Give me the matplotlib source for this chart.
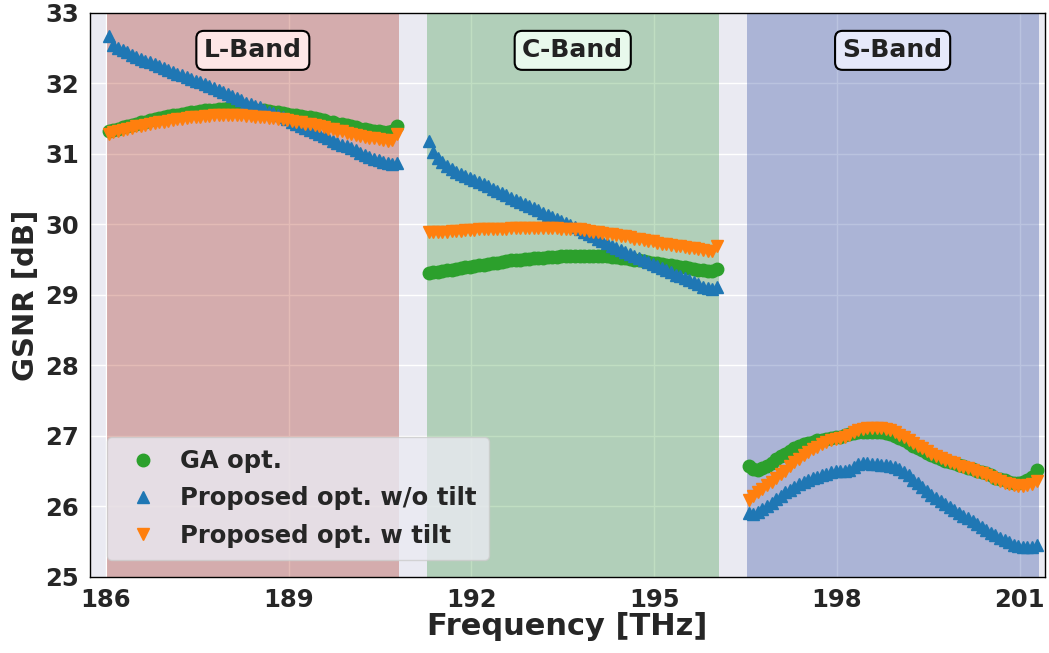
import matplotlib
matplotlib.use("Agg")
import matplotlib.pyplot as plt
import numpy as np
import seaborn as sns

# channel grid (THz)
band_names = ["L-Band", "C-Band", "S-Band"]
band_starts = [186.05, 191.30, 196.55]
ch_spacing = 0.075
n_ch = 64

# GSNR [dB] per band, GA optimisation
ga_L = [31.32, 31.34, 31.36, 31.38, 31.40, 31.41, 31.43, 31.45, 31.46, 31.48,
        31.49, 31.51, 31.52, 31.54, 31.55, 31.56, 31.57, 31.58, 31.59, 31.60,
        31.61, 31.62, 31.63, 31.63, 31.64, 31.64, 31.65, 31.65, 31.65, 31.65,
        31.64, 31.64, 31.63, 31.63, 31.62, 31.61, 31.60, 31.59, 31.58, 31.57,
        31.56, 31.55, 31.54, 31.53, 31.52, 31.51, 31.49, 31.48, 31.46, 31.45,
        31.43, 31.42, 31.41, 31.39, 31.38, 31.36, 31.35, 31.34, 31.33, 31.32,
        31.31, 31.31, 31.32, 31.40]
ga_C = [29.31, 29.32, 29.33, 29.34, 29.35, 29.36, 29.37, 29.38, 29.39, 29.40,
        29.41, 29.42, 29.43, 29.44, 29.45, 29.46, 29.47, 29.48, 29.49, 29.49,
        29.50, 29.51, 29.51, 29.52, 29.53, 29.53, 29.54, 29.54, 29.54, 29.55,
        29.55, 29.55, 29.56, 29.56, 29.56, 29.56, 29.56, 29.56, 29.55, 29.55,
        29.54, 29.54, 29.53, 29.52, 29.51, 29.50, 29.49, 29.48, 29.47, 29.46,
        29.45, 29.44, 29.43, 29.42, 29.41, 29.40, 29.39, 29.38, 29.37, 29.36,
        29.35, 29.34, 29.34, 29.37]
ga_S = [26.58, 26.53, 26.52, 26.54, 26.58, 26.62, 26.67, 26.71, 26.75, 26.79,
        26.83, 26.86, 26.88, 26.90, 26.92, 26.94, 26.95, 26.96, 26.97, 26.98,
        26.99, 27.01, 27.03, 27.04, 27.05, 27.05, 27.06, 27.06, 27.06, 27.05,
        27.04, 27.03, 27.00, 26.97, 26.94, 26.90, 26.86, 26.83, 26.80, 26.76,
        26.73, 26.70, 26.68, 26.65, 26.63, 26.61, 26.59, 26.57, 26.55, 26.53,
        26.51, 26.49, 26.47, 26.44, 26.41, 26.39, 26.37, 26.35, 26.34, 26.34,
        26.35, 26.38, 26.42, 26.52]

# proposed optimisation without tilt
notilt_L = [32.68, 32.55, 32.50, 32.47, 32.44, 32.41, 32.38, 32.35, 32.32, 32.30,
            32.27, 32.25, 32.22, 32.19, 32.17, 32.14, 32.12, 32.09, 32.07, 32.04,
            32.02, 31.99, 31.97, 31.94, 31.91, 31.88, 31.85, 31.82, 31.79, 31.76,
            31.73, 31.71, 31.68, 31.66, 31.63, 31.60, 31.58, 31.55, 31.52, 31.49,
            31.46, 31.43, 31.40, 31.37, 31.34, 31.31, 31.28, 31.25, 31.22, 31.19,
            31.16, 31.13, 31.11, 31.08, 31.05, 31.02, 30.99, 30.96, 30.93, 30.91,
            30.89, 30.87, 30.86, 30.87]
notilt_C = [31.19, 31.03, 30.95, 30.88, 30.83, 30.79, 30.75, 30.72, 30.69, 30.66,
            30.63, 30.60, 30.57, 30.54, 30.51, 30.48, 30.45, 30.42, 30.38, 30.35,
            30.32, 30.29, 30.26, 30.23, 30.20, 30.17, 30.14, 30.11, 30.08, 30.05,
            30.02, 29.99, 29.96, 29.93, 29.90, 29.86, 29.83, 29.80, 29.77, 29.74,
            29.70, 29.67, 29.64, 29.61, 29.58, 29.55, 29.52, 29.49, 29.47, 29.44,
            29.41, 29.38, 29.35, 29.32, 29.29, 29.27, 29.24, 29.21, 29.18, 29.15,
            29.12, 29.10, 29.09, 29.11]
notilt_S = [25.91, 25.90, 25.92, 25.96, 26.00, 26.05, 26.10, 26.15, 26.20, 26.24,
            26.28, 26.32, 26.35, 26.38, 26.40, 26.42, 26.44, 26.46, 26.49, 26.51,
            26.51, 26.50, 26.52, 26.56, 26.60, 26.61, 26.61, 26.60, 26.60, 26.59,
            26.59, 26.58, 26.56, 26.53, 26.49, 26.44, 26.38, 26.33, 26.27, 26.22,
            26.17, 26.12, 26.08, 26.03, 25.99, 25.95, 25.91, 25.87, 25.83, 25.79,
            25.75, 25.71, 25.67, 25.63, 25.59, 25.55, 25.52, 25.49, 25.46, 25.44,
            25.42, 25.42, 25.43, 25.45]

# proposed optimisation with tilt
tilt_L = [31.29, 31.31, 31.33, 31.34, 31.36, 31.37, 31.39, 31.40, 31.41, 31.43,
          31.44, 31.45, 31.46, 31.47, 31.48, 31.49, 31.50, 31.51, 31.52, 31.53,
          31.53, 31.54, 31.54, 31.55, 31.55, 31.55, 31.55, 31.55, 31.55, 31.55,
          31.54, 31.54, 31.53, 31.53, 31.52, 31.51, 31.51, 31.50, 31.49, 31.48,
          31.47, 31.46, 31.45, 31.43, 31.42, 31.41, 31.39, 31.38, 31.36, 31.35,
          31.33, 31.32, 31.30, 31.29, 31.27, 31.26, 31.24, 31.23, 31.22, 31.21,
          31.20, 31.19, 31.20, 31.28]
tilt_C = [29.89, 29.89, 29.90, 29.90, 29.90, 29.91, 29.91, 29.91, 29.92, 29.92,
          29.92, 29.93, 29.93, 29.93, 29.94, 29.94, 29.94, 29.94, 29.95, 29.95,
          29.95, 29.95, 29.95, 29.95, 29.95, 29.95, 29.95, 29.95, 29.95, 29.94,
          29.94, 29.94, 29.93, 29.93, 29.92, 29.91, 29.90, 29.89, 29.88, 29.87,
          29.86, 29.85, 29.84, 29.83, 29.82, 29.80, 29.79, 29.78, 29.77, 29.76,
          29.74, 29.73, 29.72, 29.71, 29.70, 29.69, 29.68, 29.67, 29.66, 29.65,
          29.64, 29.63, 29.63, 29.70]
tilt_S = [26.09, 26.15, 26.20, 26.25, 26.30, 26.35, 26.41, 26.46, 26.51, 26.57,
          26.63, 26.68, 26.73, 26.77, 26.81, 26.85, 26.88, 26.91, 26.94, 26.96,
          26.97, 26.98, 27.02, 27.06, 27.08, 27.10, 27.11, 27.11, 27.11, 27.11,
          27.10, 27.08, 27.05, 27.02, 26.98, 26.94, 26.90, 26.86, 26.83, 26.79,
          26.75, 26.72, 26.69, 26.66, 26.63, 26.61, 26.58, 26.56, 26.54, 26.52,
          26.49, 26.47, 26.45, 26.42, 26.39, 26.36, 26.34, 26.32, 26.30, 26.29,
          26.29, 26.30, 26.32, 26.36]

band_fill = ["#a41f0f", "#2f9337", "#1b3998"]
band_box = ["#fde6e6", "#e8f9ec", "#e6e9fa"]
x_ticks = [186, 189, 192, 195, 198, 201]

sns.set_theme(style="darkgrid")
plt.rcParams["font.family"] = ["DejaVu Sans"]
plt.rcParams["font.weight"] = "bold"

fig = plt.figure(figsize=(10.49, 6.53), dpi=100)
ax = fig.add_axes([0.0858, 0.1164, 0.9102, 0.8637])

freqs = [s + ch_spacing * np.arange(n_ch) for s in band_starts]
ga = [ga_L, ga_C, ga_S]
notilt = [notilt_L, notilt_C, notilt_S]
tilt = [tilt_L, tilt_C, tilt_S]

for k in range(3):
    f = freqs[k]
    ax.axvspan(f[0] - ch_spacing / 3, f[-1] + ch_spacing / 2, color=band_fill[k],
               alpha=0.3, lw=0, zorder=1)
    ax.text((f[0] + f[-1]) / 2, 32.47, band_names[k], ha="center", va="center",
            fontsize=18, fontweight="bold", color="#222222", zorder=5,
            bbox=dict(boxstyle="round,pad=0.3", facecolor=band_box[k],
                      edgecolor="black", linewidth=1.5))

for k in range(3):
    f = freqs[k]
    ax.plot(f, ga[k], "o", color="#2ca02c", markersize=9, linestyle="none",
            zorder=3, label="GA opt." if k == 0 else None)
    ax.plot(f, notilt[k], "^", color="#1f77b4", markersize=9, linestyle="none",
            zorder=3, label="Proposed opt. w/o tilt" if k == 0 else None)
    ax.plot(f, tilt[k], "v", color="#ff7f0e", markersize=9, linestyle="none",
            zorder=3, label="Proposed opt. w tilt" if k == 0 else None)

ax.set_xlim(185.74, 201.41)
ax.set_ylim(25, 33)
ax.set_xticks(x_ticks)
ax.set_yticks(range(25, 34))
ax.tick_params(labelsize=17.5, pad=2)
for lab in ax.get_xticklabels() + ax.get_yticklabels():
    lab.set_fontweight("bold")
    lab.set_color("#262626")
ax.set_xlabel("Frequency [THz]", fontsize=22, fontweight="bold", labelpad=0)
ax.set_ylabel("GSNR [dB]", fontsize=21, fontweight="bold", labelpad=4)

for sp in ax.spines.values():
    sp.set_visible(True)
    sp.set_color("black")
    sp.set_linewidth(1.0)

leg = ax.legend(loc="lower left", prop={"weight": "bold", "size": 17.5},
                handletextpad=0.5, borderaxespad=0.7, labelspacing=0.55,
                borderpad=0.5, markerscale=1.0)
for t in leg.get_texts():
    t.set_color("#262626")

fig.savefig("out.png", dpi=100)
